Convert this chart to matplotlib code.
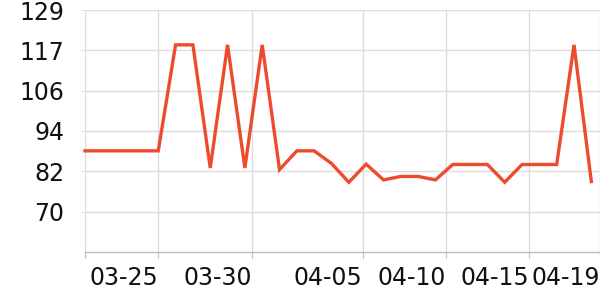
import matplotlib
matplotlib.use("Agg")
import matplotlib.pyplot as plt
import matplotlib.dates as mdates
import pandas as pd

# ---- data ----
dates = ["2024-03-20 18:30",
         "2024-03-25 00:00", "2024-03-26 00:00", "2024-03-27 00:00", "2024-03-28 00:00",
         "2024-03-29 00:00", "2024-03-30 00:00", "2024-03-31 00:00", "2024-04-01 00:00",
         "2024-04-02 00:00", "2024-04-03 00:00", "2024-04-04 00:00", "2024-04-05 00:00",
         "2024-04-06 00:00", "2024-04-07 00:00", "2024-04-08 00:00", "2024-04-09 00:00",
         "2024-04-10 00:00", "2024-04-11 00:00", "2024-04-12 00:00", "2024-04-13 00:00",
         "2024-04-14 00:00", "2024-04-15 00:00", "2024-04-16 00:00", "2024-04-17 00:00",
         "2024-04-18 00:00", "2024-04-19 00:00"]
values = [88, 88, 119, 119, 83, 119, 83, 119, 82.5, 88, 88, 84.3, 78.8, 84.1,
          79.5, 80.5, 80.5, 79.5, 84, 84, 84, 78.8, 84, 84, 84, 119, 79]

tick_dates = ["2024-03-20 18:30", "2024-03-25 00:00", "2024-03-30 10:15", "2024-04-05 19:10",
              "2024-04-10 14:10", "2024-04-15 10:05", "2024-04-19 12:00"]
tick_labels = ["", "03-25", "03-30", "04-05", "04-10", "04-15", "04-19"]

y_ticks = [70.2, 82.0, 93.8, 105.6, 117.4, 129.2]
y_tick_labels = ["70", "82", "94", "106", "117", "129"]
y_range = (58.4, 129.2)

line_color = "#EE4B2E"

x = pd.to_datetime(dates, format="%Y-%m-%d %H:%M")
xt = pd.to_datetime(tick_dates, format="%Y-%m-%d %H:%M")

fig = plt.figure(figsize=(6, 3), dpi=100)
ax = fig.add_axes([85 / 600, 48 / 300, 1 - 85 / 600, 242 / 300])

ax.plot(x, values, color=line_color, lw=2.4, solid_joinstyle="miter", zorder=3, clip_on=False)

ax.set_xlim(xt[0], xt[-1])
ax.set_ylim(*y_range)

ax.set_xticks(mdates.date2num(xt))
ax.set_xticklabels(tick_labels, ha="right")
ax.set_yticks(y_ticks)
ax.set_yticklabels(y_tick_labels)

ax.grid(True, color="#dddddd", lw=1)
ax.set_axisbelow(True)
for s in ["top", "right", "left"]:
    ax.spines[s].set_visible(False)
ax.spines["bottom"].set_color("#bbbbbb")
ax.spines["bottom"].set_linewidth(1)

ax.tick_params(axis="x", length=4, color="#bbbbbb", labelsize=17, pad=6, labelcolor="#111111")
ax.tick_params(axis="y", length=3, color="#dddddd", labelsize=17, pad=12, labelcolor="#111111")

fig.savefig("out.png", dpi=100)
